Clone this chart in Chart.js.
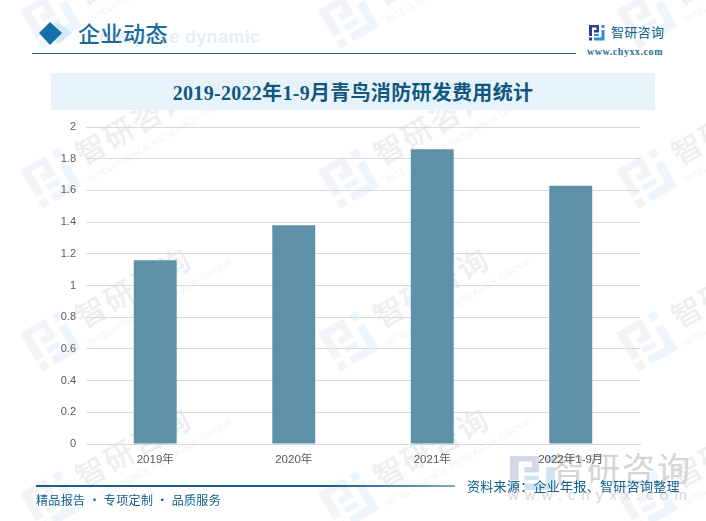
<!DOCTYPE html>
<html>
<head>
<meta charset="utf-8">
<script src="https://cdn.jsdelivr.net/npm/chart.js@4"></script>
<style>
  html, body { margin: 0; padding: 0; background: #fff; }
  #page { position: relative; width: 706px; height: 521px; overflow: hidden; font-family: "Noto Sans CJK SC", sans-serif; }
  #page div, #page svg { position: absolute; white-space: nowrap; }
  #chart { position: absolute; left: 0; top: 0; }
  .wm { color: #eeeef0; font-size: 30px; line-height: 36px; letter-spacing: 2px; font-weight: 500; transform-origin: 0 50%; transform: rotate(-30deg); }
  .wm2 { color: #f2f3f5; font-size: 9px; line-height: 12px; letter-spacing: 0.5px; font-family: "Liberation Sans"; transform-origin: 0 50%; transform: rotate(-30deg); }
</style>
</head>
<body>
<div id="page">
  <svg id="marks" width="706" height="521" style="left:0;top:0"></svg>
  <div id="wms" style="left:0;top:0;width:706px;height:521px"></div>

  <div style="left:51px;top:73px;width:604px;height:37px;background:#e6f3fb"></div>
  <div style="left:51px;top:75px;width:604px;height:37px;text-align:center;font:700 20px/37px 'Liberation Serif','Noto Sans CJK SC';color:#11577f;letter-spacing:.3px" id="title"></div>

  <div style="left:87px;top:27px;font:700 18px/20px 'Liberation Sans';color:#e3f0f9;letter-spacing:.35px">Enterprise dynamic</div>
  <svg width="60" height="40" style="left:35px;top:15px">
    <path d="M23 7 L37 18 L23 29 L12 18 Z" fill="#d5e7f3"/>
    <path d="M15 7 L27 18 L15 30 L4 18 Z" fill="#1470a8"/>
  </svg>
  <div style="left:78px;top:18px;font:500 22px/28px 'Noto Sans CJK SC';color:#1a6c9f;letter-spacing:.5px">企业动态</div>
  <div style="left:32px;top:53px;width:544px;height:1px;background:#1b5f8a"></div>

  <svg id="smallLogo" width="16" height="16" style="left:589px;top:25px"></svg>
  <div style="left:611px;top:23px;font:400 13px/18px 'Noto Sans CJK SC';color:#125e8e;letter-spacing:.3px">智研咨询</div>
  <div style="left:587px;top:46px;font:700 10px/12px 'Liberation Serif';color:#2d6f9a;letter-spacing:.55px">www.chyxx.com</div>

  <canvas id="chart" width="706" height="521"></canvas>

  <div style="left:36px;top:485px;width:419px;height:1.5px;background:linear-gradient(90deg,#1b5f8a 70%,#7fa8c4)"></div>
  <div style="left:36px;top:491px;font:400 12px/18px 'Noto Sans CJK SC';color:#125e8e;letter-spacing:.35px">精品报告 · 专项定制 · 品质服务</div>
  <div style="left:467px;top:477px;font:400 13px/18px 'Noto Sans CJK SC';color:#125e8e;letter-spacing:.3px">资料来源：企业年报、智研咨询整理</div>
</div>
<script>
const categories = ['2019年', '2020年', '2021年', '2022年1-9月'];
const expenses = [1.16, 1.38, 1.86, 1.63];
const yTicks = [0, 0.2, 0.4, 0.6, 0.8, 1, 1.2, 1.4, 1.6, 1.8, 2];
const chartTitle = '2019-2022年1-9月青鸟消防研发费用统计';

document.getElementById('title').textContent = chartTitle;

// logo on a 16 unit grid
const logoShape = (a, b) =>
  `<path d="M0 0H10V7.5H5V5H7.5V2.5H3V11H0Z" fill="${a}"/>
   <rect x="0" y="12.5" width="3" height="3" fill="${a}"/>
   <path d="M12.5 0H15.5V3H12.5Z M12.5 5H15.5V15.5H5V12.5H12.5Z M5 9H10V11H5Z" fill="${b}"/>`;
document.getElementById('smallLogo').innerHTML = logoShape('#2b3f8f', '#2e8fd6');

// watermark tiles behind the chart
const tileX = [-278, 20, 318, 616];
const tileY = [10, 170, 333, 493];
let svg = '';
let wmHtml = '';
tileY.forEach(y => tileX.forEach(x => {
  svg += `<g transform="translate(${x} ${y}) rotate(-30) scale(2.9)">${logoShape('#f2f4f7', '#eff6fb')}</g>`;
  wmHtml += `<div class="wm" style="left:${x + 57}px;top:${y - 33}px">智研咨询</div>`;
  wmHtml += `<div class="wm2" style="left:${x + 68}px;top:${y + 5}px">INTELLIGENCE RESEARCH GROUP</div>`;
}));
// big mark at bottom right
svg += `<g transform="translate(510 456) scale(2.9 2.2)">${logoShape('#d3d9e6', '#cfe3f2')}</g>`;
document.getElementById('marks').innerHTML = svg;
wmHtml += `<div style="left:552px;top:449px;font:400 33px/36px 'Noto Sans CJK SC';color:#d5d5d5;letter-spacing:2px">智研咨询</div>`;
wmHtml += `<div style="left:508px;top:486px;font:400 15px/18px 'Liberation Sans';color:#d8d8d8;letter-spacing:6px">www.chyxx.com</div>`;
document.getElementById('wms').innerHTML = wmHtml;

new Chart(document.getElementById('chart'), {
  type: 'bar',
  data: {
    labels: categories,
    datasets: [{
      data: expenses,
      backgroundColor: '#5e91a9',
      barPercentage: 0.31,
      categoryPercentage: 1
    }]
  },
  options: {
    responsive: false,
    animation: false,
    layout: { padding: { top: 127, right: 66 } },
    plugins: { legend: { display: false }, tooltip: { enabled: false } },
    scales: {
      x: {
        grid: { display: false },
        border: { color: '#d9d9d9' },
        ticks: { color: '#595959', padding: 1, maxRotation: 0, font: { family: "'Liberation Sans','Noto Sans CJK SC'", size: 11.5 } },
        afterFit: s => { s.height = 521 - 444; }
      },
      y: {
        min: 0,
        max: 2,
        afterBuildTicks: s => { s.ticks = yTicks.map(v => ({ value: v })); },
        grid: { color: '#d9d9d9', drawTicks: false },
        border: { display: false },
        ticks: { color: '#595959', padding: 10, font: { family: "'Liberation Sans'", size: 11 }, callback: v => String(v) },
        afterFit: s => { s.width = 86; }
      }
    }
  }
});
</script>
</body>
</html>
